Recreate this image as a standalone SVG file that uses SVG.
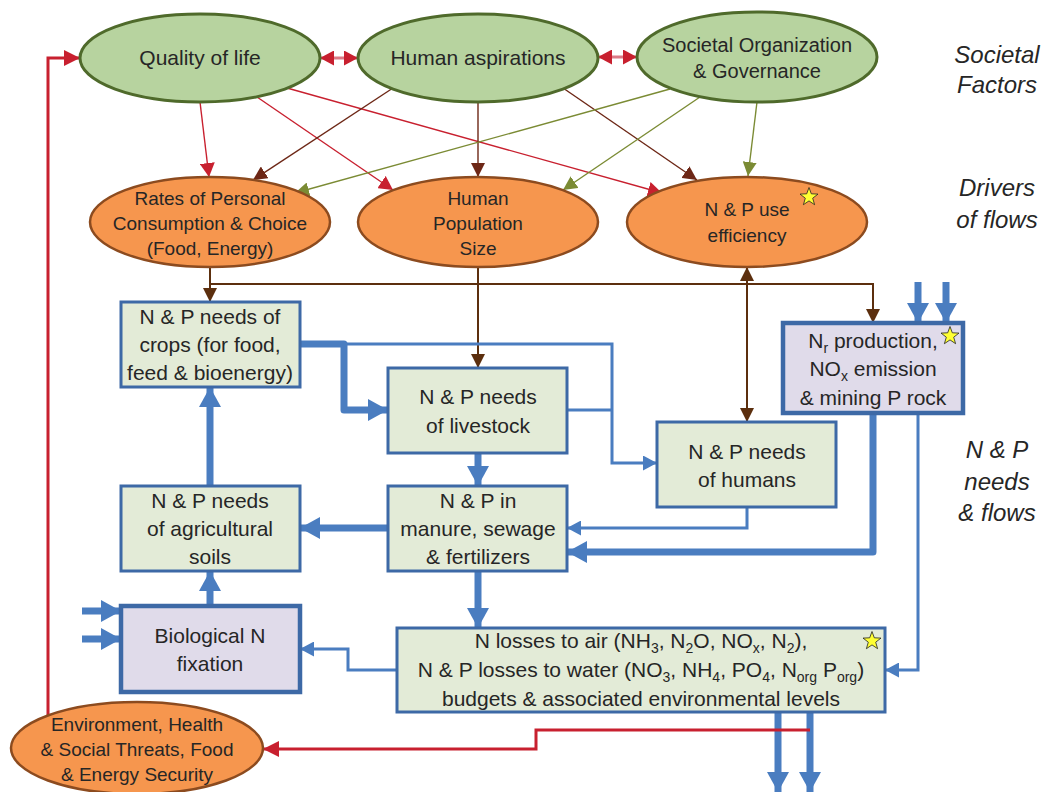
<svg xmlns="http://www.w3.org/2000/svg" width="1041" height="792" viewBox="0 0 1041 792">
<style>
text{font-family:"Liberation Sans",Arial,sans-serif;fill:#262626;text-anchor:middle}
.t21{font-size:21px}
.t20{font-size:20px}
.t19{font-size:19px}
.lab{font-size:24px;font-style:italic}
.sub{font-size:14px}
.eg{fill:#b7d39f;stroke:#4f6a2b;stroke-width:3}
.eo{fill:#f6964e;stroke:#8c4b1f;stroke-width:2.5}
.bx{fill:#e3ebd7;stroke:#3d69a6;stroke-width:3}
.bp{fill:#e0dbea;stroke:#3d69a6;stroke-width:4.5}
.c{fill:none}
.red{stroke:#c8202f;stroke-width:1.4}
.red3{stroke:#c8202f;stroke-width:3}
.pk{stroke:#dc7a86;stroke-width:3}
.br{stroke:#6d2716;stroke-width:1.4}
.ol{stroke:#7b8b34;stroke-width:1.4}
.bn2{stroke:#5c2f0e;stroke-width:2}
.bk{stroke:#4a7dc0;stroke-width:7;stroke-linejoin:round}
.bt{stroke:#4a7dc0;stroke-width:3}
.star{fill:#ffff33;stroke:#222;stroke-width:0.8}
</style>
<defs>
<marker id="mRed" markerUnits="userSpaceOnUse" markerWidth="14" markerHeight="15" refX="14" refY="7.5" orient="auto-start-reverse" viewBox="0 0 14 15"><path d="M0,0 L14,7.5 L0,15 z" fill="#c8202f"/></marker>
<marker id="mRedL" markerUnits="userSpaceOnUse" markerWidth="16" markerHeight="16" refX="16" refY="8" orient="auto" viewBox="0 0 16 16"><path d="M0,0 L16,8 L0,16 z" fill="#c8202f"/></marker>
<marker id="mBr" markerUnits="userSpaceOnUse" markerWidth="14" markerHeight="14" refX="14" refY="7" orient="auto" viewBox="0 0 14 14"><path d="M0,0 L14,7 L0,14 z" fill="#6d2716"/></marker>
<marker id="mOl" markerUnits="userSpaceOnUse" markerWidth="14" markerHeight="14" refX="14" refY="7" orient="auto" viewBox="0 0 14 14"><path d="M0,0 L14,7 L0,14 z" fill="#7b8b34"/></marker>
<marker id="mBn" markerUnits="userSpaceOnUse" markerWidth="14" markerHeight="14" refX="14" refY="7" orient="auto-start-reverse" viewBox="0 0 14 14"><path d="M0,0 L14,7 L0,14 z" fill="#5c2f0e"/></marker>
<marker id="mBk" markerUnits="userSpaceOnUse" markerWidth="20" markerHeight="22" refX="20" refY="11" orient="auto" viewBox="0 0 20 22"><path d="M0,0 L20,11 L0,22 z" fill="#4a7dc0"/></marker>
<marker id="mBt" markerUnits="userSpaceOnUse" markerWidth="14" markerHeight="15" refX="14" refY="7.5" orient="auto" viewBox="0 0 14 15"><path d="M0,0 L14,7.5 L0,15 z" fill="#4a7dc0"/></marker>
<path id="star" d="M0,-9.5 L2.3,-3.2 L9,-2.9 L3.7,1.2 L5.6,7.7 L0,3.9 L-5.6,7.7 L-3.7,1.2 L-9,-2.9 L-2.3,-3.2 Z"/>
</defs>

<g id="connectors" class="c">
<path class="c pk" d="M320,58 H358" marker-start="url(#mRed)" marker-end="url(#mRed)"/>
<path class="c pk" d="M598,57 H637" marker-start="url(#mRed)" marker-end="url(#mRed)"/>
<path class="c red" d="M200,102 L209,177" marker-end="url(#mRed)"/>
<path class="c red" d="M257,97 L393,190" marker-end="url(#mRed)"/>
<path class="c red" d="M287,88 L662,193" marker-end="url(#mRed)"/>
<path class="c br" d="M393,88 L253,180" marker-end="url(#mBr)"/>
<path class="c br" d="M478,102 L478,177" marker-end="url(#mBr)"/>
<path class="c br" d="M563,88 L697,180" marker-end="url(#mBr)"/>
<path class="c ol" d="M670,89 L295,193" marker-end="url(#mOl)"/>
<path class="c ol" d="M700,97 L563,190" marker-end="url(#mOl)"/>
<path class="c ol" d="M757,102 L748,176" marker-end="url(#mOl)"/>
<path class="c bn2" d="M210,267 V302" marker-end="url(#mBn)"/>
<path class="c bn2" d="M210,284 H873 V323" marker-end="url(#mBn)"/>
<path class="c bn2" d="M478,267 V368" marker-end="url(#mBn)"/>
<path class="c bn2" d="M747,267 V422" marker-start="url(#mBn)" marker-end="url(#mBn)"/>
<path class="c bt" d="M344,344 H612 V463 H657" marker-end="url(#mBt)"/>
<path class="c bt" d="M567,410 H612"/>
<path class="c bk" d="M300,344 H344 V410 H388" marker-end="url(#mBk)"/>
<path class="c bk" d="M478,453 V486" marker-end="url(#mBk)"/>
<path class="c bk" d="M388,528 H300" marker-end="url(#mBk)"/>
<path class="c bk" d="M210,486 V387" marker-end="url(#mBk)"/>
<path class="c bt" d="M747,507 V528 H567" marker-end="url(#mBt)"/>
<path class="c bk" d="M873,413 V552 H567" marker-end="url(#mBk)"/>
<path class="c bt" d="M918,413 V670 H885" marker-end="url(#mBt)"/>
<path class="c bk" d="M918,282 V323" marker-end="url(#mBk)"/>
<path class="c bk" d="M946,282 V323" marker-end="url(#mBk)"/>
<path class="c bk" d="M478,571 V628" marker-end="url(#mBk)"/>
<path class="c bt" d="M397,670 H348 V649 H300" marker-end="url(#mBt)"/>
<path class="c bk" d="M210,606 V571" marker-end="url(#mBk)"/>
<path class="c bk" d="M82,611 H121" marker-end="url(#mBk)"/>
<path class="c bk" d="M82,639 H121" marker-end="url(#mBk)"/>
<path class="c bk" d="M778,712 V792" marker-end="url(#mBk)"/>
<path class="c bk" d="M810,712 V792" marker-end="url(#mBk)"/>
<path class="c red3" d="M810,730 H536 V749 H263" marker-end="url(#mRedL)"/>
<path class="c red3" d="M48,716 V58 H80" marker-end="url(#mRedL)"/>
</g>

<g id="quality-of-life"><ellipse class="eg" cx="200" cy="58" rx="120" ry="44"/><text class="t21" x="200" y="65">Quality of life</text></g>
<g id="human-aspirations"><ellipse class="eg" cx="478" cy="58" rx="120" ry="44"/><text class="t21" x="478" y="65">Human aspirations</text></g>
<g id="societal-organization"><ellipse class="eg" cx="757" cy="57" rx="120" ry="45"/><text class="t20" x="757" y="52">Societal Organization</text><text class="t20" x="757" y="78">&amp; Governance</text></g>

<g id="rates-consumption"><ellipse class="eo" cx="210" cy="222" rx="120" ry="45"/><text class="t19" x="210" y="205">Rates of Personal</text><text class="t19" x="210" y="230">Consumption &amp; Choice</text><text class="t19" x="210" y="255">(Food, Energy)</text></g>
<g id="human-population"><ellipse class="eo" cx="478" cy="222" rx="120" ry="45"/><text class="t19" x="478" y="205">Human</text><text class="t19" x="478" y="230">Population</text><text class="t19" x="478" y="255">Size</text></g>
<g id="use-efficiency"><ellipse class="eo" cx="747" cy="222" rx="120" ry="45"/><text class="t19" x="747" y="216">N &amp; P use</text><text class="t19" x="747" y="242">efficiency</text><use href="#star" class="star" x="809" y="197"/></g>

<g id="needs-crops"><rect class="bx" x="121" y="302" width="179" height="85"/><text class="t21" x="210" y="324">N &amp; P needs of</text><text class="t21" x="210" y="352">crops (for food,</text><text class="t21" x="210" y="380">feed &amp; bioenergy)</text></g>
<g id="needs-livestock"><rect class="bx" x="388" y="368" width="179" height="85"/><text class="t21" x="478" y="404">N &amp; P needs</text><text class="t21" x="478" y="433">of livestock</text></g>
<g id="needs-humans"><rect class="bx" x="657" y="422" width="179" height="85"/><text class="t21" x="747" y="459">N &amp; P needs</text><text class="t21" x="747" y="487">of humans</text></g>
<g id="nr-production"><rect class="bp" x="783" y="323" width="180" height="90"/><text class="t21" x="873" y="348">N<tspan class="sub" dy="5">r</tspan><tspan dy="-5"> production,</tspan></text><text class="t21" x="873" y="376">NO<tspan class="sub" dy="5">x</tspan><tspan dy="-5"> emission</tspan></text><text class="t21" x="873" y="405">&amp; mining P rock</text><use href="#star" class="star" x="950" y="336"/></g>
<g id="needs-soils"><rect class="bx" x="121" y="486" width="179" height="85"/><text class="t21" x="210" y="508">N &amp; P needs</text><text class="t21" x="210" y="536">of agricultural</text><text class="t21" x="210" y="564">soils</text></g>
<g id="manure"><rect class="bx" x="388" y="486" width="179" height="85"/><text class="t21" x="478" y="508">N &amp; P in</text><text class="t21" x="478" y="536">manure, sewage</text><text class="t21" x="478" y="564">&amp; fertilizers</text></g>
<g id="bio-fixation"><rect class="bp" x="121" y="606" width="179" height="86"/><text class="t21" x="210" y="643">Biological N</text><text class="t21" x="210" y="671">fixation</text></g>
<g id="losses"><rect class="bx" x="397" y="628" width="488" height="84"/>
<text class="t21" x="641" y="648">N losses to air (NH<tspan class="sub" dy="5">3</tspan><tspan dy="-5">, N</tspan><tspan class="sub" dy="5">2</tspan><tspan dy="-5">O, NO</tspan><tspan class="sub" dy="5">x</tspan><tspan dy="-5">, N</tspan><tspan class="sub" dy="5">2</tspan><tspan dy="-5">),</tspan></text>
<text class="t21" x="641" y="677">N &amp; P losses to water (NO<tspan class="sub" dy="5">3</tspan><tspan dy="-5">, NH</tspan><tspan class="sub" dy="5">4</tspan><tspan dy="-5">, PO</tspan><tspan class="sub" dy="5">4</tspan><tspan dy="-5">, N</tspan><tspan class="sub" dy="5">org</tspan><tspan dy="-5"> P</tspan><tspan class="sub" dy="5">org</tspan><tspan dy="-5">)</tspan></text>
<text class="t21" x="641" y="706">budgets &amp; associated environmental levels</text>
<use href="#star" class="star" x="872" y="641"/></g>
<g id="threats"><ellipse class="eo" cx="137" cy="748" rx="126" ry="46"/><text class="t19" x="137" y="731">Environment, Health</text><text class="t19" x="137" y="756">&amp; Social Threats, Food</text><text class="t19" x="137" y="781">&amp; Energy Security</text></g>

<g id="labels">
<text class="lab" x="997" y="63">Societal</text><text class="lab" x="997" y="93">Factors</text>
<text class="lab" x="997" y="196">Drivers</text><text class="lab" x="997" y="228">of flows</text>
<text class="lab" x="997" y="458">N &amp; P</text><text class="lab" x="997" y="490">needs</text><text class="lab" x="997" y="521">&amp; flows</text>
</g>
</svg>
